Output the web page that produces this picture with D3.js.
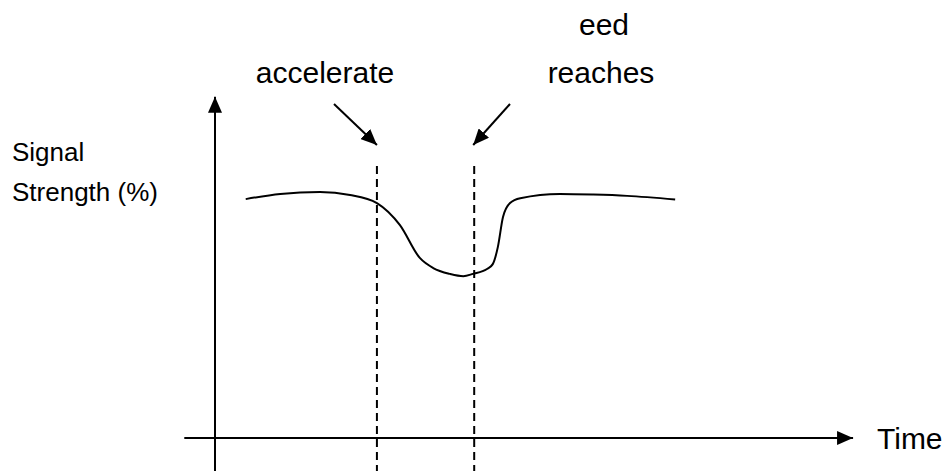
<!DOCTYPE html>
<html>
<head>
<meta charset="utf-8">
<script src="https://cdn.jsdelivr.net/npm/d3@7"></script>
<style>
  html, body { margin: 0; padding: 0; background: #fff; }
  text { font-family: 'Liberation Sans', Arial, sans-serif; fill: #000; }
</style>
</head>
<body>
<div id="chart"></div>
<script>
// time (arbitrary units) and signal strength (%)
const time = [4.8, 10.2, 16.4, 21.1, 25.3, 28.9, 32.0, 34.1, 36.7, 38.8, 40.3, 42.5, 43.4, 44.2, 45.0, 46.1, 47.7, 53.9, 59.1, 64.4, 71.9];
const signal = [73.5, 75.1, 75.7, 74.8, 72.3, 65.5, 55.4, 52.3, 50.5, 49.8, 50.5, 52.0, 53.5, 58.8, 68.0, 72.3, 73.8, 75.1, 74.9, 74.5, 73.4];

// moments marked with dashed lines
const events = [25.3, 40.5];
const eventLabels = ['accelerate', 'reaches'];

const axisLabelY = ['Signal', 'Strength (%)'];
const axisLabelX = 'Time';

const width = 950,
  height = 471;

const svg = d3
  .select('#chart')
  .append('svg')
  .attr('width', width)
  .attr('height', height);

const x = d3.scaleLinear().domain([0, 100]).range([215, 855]);
const y = d3.scaleLinear().domain([0, 100]).range([438, 113]);

const data = time.map((t, i) => ({ t: t, s: signal[i] }));

// arrow heads
const defs = svg.append('defs');
defs
  .append('marker')
  .attr('id', 'head')
  .attr('viewBox', '0 0 16 14')
  .attr('refX', 16)
  .attr('refY', 7)
  .attr('markerWidth', 16)
  .attr('markerHeight', 14)
  .attr('markerUnits', 'userSpaceOnUse')
  .attr('orient', 'auto')
  .append('path')
  .attr('d', 'M0,0 L16,7 L0,14 Z')
  .attr('fill', '#000');

// x axis
svg
  .append('line')
  .attr('x1', x(-4.8))
  .attr('x2', x(99.7))
  .attr('y1', y(0))
  .attr('y2', y(0))
  .attr('stroke', '#000')
  .attr('stroke-width', 2)
  .attr('marker-end', 'url(#head)');

// y axis
svg
  .append('line')
  .attr('x1', x(0))
  .attr('x2', x(0))
  .attr('y1', height)
  .attr('y2', y(105))
  .attr('stroke', '#000')
  .attr('stroke-width', 2)
  .attr('marker-end', 'url(#head)');

// dashed event lines
svg
  .append('g')
  .selectAll('line')
  .data(events)
  .enter()
  .append('line')
  .attr('x1', (d) => x(d))
  .attr('x2', (d) => x(d))
  .attr('y1', 166)
  .attr('y2', height)
  .attr('stroke', '#000')
  .attr('stroke-width', 2)
  .attr('stroke-dasharray', '8,5');

// signal curve
svg
  .append('path')
  .datum(data)
  .attr('fill', 'none')
  .attr('stroke', '#000')
  .attr('stroke-width', 2)
  .attr(
    'd',
    d3
      .line()
      .x((d) => x(d.t))
      .y((d) => y(d.s))
      .curve(d3.curveMonotoneX)
  );

// pointer arrows to the event lines
const pointers = [
  { from: [334, 104], to: [x(events[0]), 145] },
  { from: [510, 104], to: [x(events[1]) - 1, 145] },
];
svg
  .append('g')
  .selectAll('line')
  .data(pointers)
  .enter()
  .append('line')
  .attr('x1', (d) => d.from[0])
  .attr('y1', (d) => d.from[1])
  .attr('x2', (d) => d.to[0])
  .attr('y2', (d) => d.to[1])
  .attr('stroke', '#000')
  .attr('stroke-width', 2)
  .attr('marker-end', 'url(#head)');

// labels
svg
  .append('text')
  .attr('x', 325)
  .attr('y', 83)
  .attr('text-anchor', 'middle')
  .style('font-size', '30px')
  .text(eventLabels[0]);

svg
  .append('text')
  .attr('x', 604)
  .attr('y', 35)
  .attr('text-anchor', 'middle')
  .style('font-size', '30px')
  .text('eed');

svg
  .append('text')
  .attr('x', 601)
  .attr('y', 83)
  .attr('text-anchor', 'middle')
  .style('font-size', '30px')
  .text(eventLabels[1]);

svg
  .append('g')
  .selectAll('text')
  .data(axisLabelY)
  .enter()
  .append('text')
  .attr('x', 12)
  .attr('y', (d, i) => 161 + i * 40)
  .style('font-size', '26px')
  .text((d) => d);

svg
  .append('text')
  .attr('x', 877)
  .attr('y', 449)
  .style('font-size', '30px')
  .text(axisLabelX);
</script>
</body>
</html>
